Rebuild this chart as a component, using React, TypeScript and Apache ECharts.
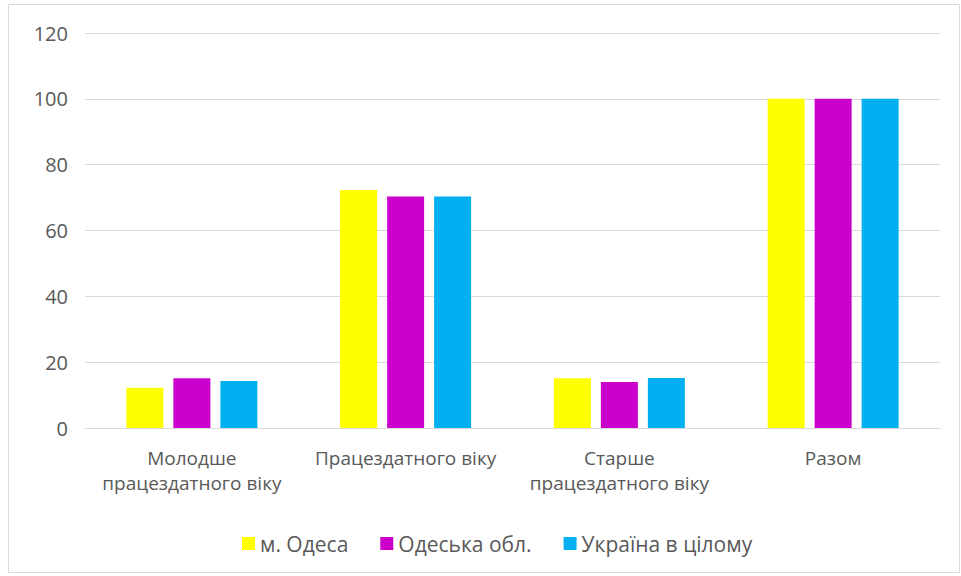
import React, { useEffect, useRef } from "react";
import * as echarts from "echarts";

const categories = [
  "Молодше\nпрацездатного віку",
  "Працездатного віку",
  "Старше\nпрацездатного віку",
  "Разом",
];
const seriesNames = ["м. Одеса", "Одеська обл.", "Україна в цілому"];
const odesaCity = [12.2, 72.3, 15.1, 100];
const odesaRegion = [15.1, 70.3, 14.0, 100];
const ukraine = [14.3, 70.3, 15.2, 100];
const colors = ["#FFFF00", "#CC00CC", "#00B0F0"];
const yTicks = { min: 0, max: 120, interval: 20 };

const FONT = "'Open Sans', 'Noto Sans', sans-serif";
const TEXT = "#595959";

export default function App() {
  const ref = useRef<HTMLDivElement>(null);

  useEffect(() => {
    if (!ref.current) return;
    const chart = echarts.init(ref.current, undefined, { renderer: "svg" });
    const values = [odesaCity, odesaRegion, ukraine];
    chart.setOption({
      animation: false,
      backgroundColor: "#ffffff",
      color: colors,
      textStyle: { fontFamily: FONT },
      graphic: [
        {
          type: "rect",
          shape: { x: 8.5, y: 4.5, width: 951, height: 568 },
          style: { fill: "none", stroke: "#d9d9d9", lineWidth: 1 },
          silent: true,
        },
      ],
      grid: { left: 85, right: 21, top: 33, bottom: 148, containLabel: false },
      legend: {
        left: 237,
        top: 528,
        itemWidth: 13,
        itemHeight: 13,
        itemGap: 32,
        icon: "rect",
        textStyle: { color: TEXT, fontSize: 21, fontFamily: FONT },
        data: seriesNames,
      },
      xAxis: {
        type: "category",
        data: categories,
        axisLine: { lineStyle: { color: "#d9d9d9", width: 1 } },
        axisTick: { show: false },
        axisLabel: {
          color: TEXT,
          fontSize: 19,
          fontFamily: FONT,
          margin: 17,
          lineHeight: 25,
          interval: 0,
        },
      },
      yAxis: {
        type: "value",
        min: yTicks.min,
        max: yTicks.max,
        interval: yTicks.interval,
        axisLine: { show: false },
        axisTick: { show: false },
        splitLine: { lineStyle: { color: "#d9d9d9", width: 1 } },
        axisLabel: { color: TEXT, fontSize: 20, fontFamily: FONT, margin: 17 },
      },
      series: seriesNames.map((name, i) => ({
        name,
        type: "bar",
        data: values[i],
        barWidth: 37,
        barGap: "27%",
        itemStyle: { color: colors[i] },
      })),
    });
    return () => chart.dispose();
  }, []);

  return (
    <div
      ref={ref}
      style={{ position: "absolute", left: 0, top: 0, width: 961, height: 576 }}
    />
  );
}
